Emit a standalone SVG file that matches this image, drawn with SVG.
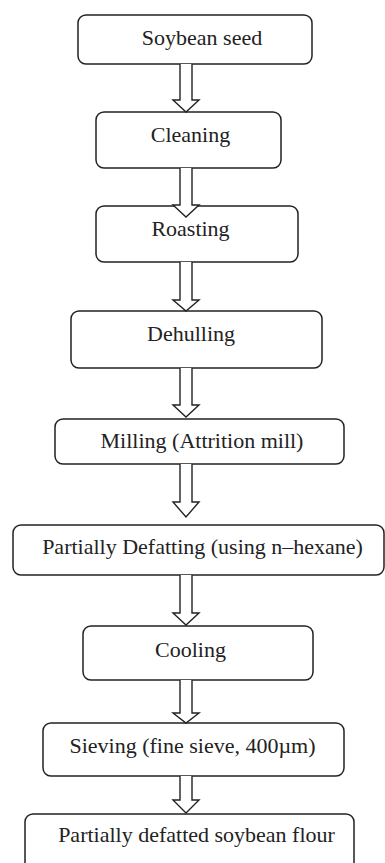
<svg xmlns="http://www.w3.org/2000/svg" width="385" height="863" viewBox="0 0 385 863">
<style>
.box{fill:#fff;stroke:#222;stroke-width:1.5}
.lbl{font-family:"Liberation Serif","Times New Roman",serif;font-size:22px;fill:#222;text-anchor:middle}
.arr{fill:#fff;stroke:#222;stroke-width:1.4;stroke-linejoin:miter}
</style>
<rect width="385" height="863" fill="#fff"/>
<g id="n1"><rect class="box" x="78" y="15" width="234" height="49" rx="8"/><text class="lbl" x="202" y="45">Soybean seed</text></g>
<g id="n2"><rect class="box" x="96" y="112" width="185" height="56" rx="8"/><text class="lbl" x="190.5" y="142">Cleaning</text></g>
<g id="n3"><rect class="box" x="96" y="206" width="202" height="56" rx="8"/><text class="lbl" x="190.5" y="236">Roasting</text></g>
<g id="n4"><rect class="box" x="71" y="311" width="251" height="57" rx="8"/><text class="lbl" x="191" y="341">Dehulling</text></g>
<g id="n5"><rect class="box" x="55" y="419" width="289" height="45" rx="8"/><text class="lbl" x="202" y="448">Milling (Attrition mill)</text></g>
<g id="n6"><rect class="box" x="13" y="525" width="371" height="50" rx="8"/><text class="lbl" x="202.5" y="554">Partially Defatting (using n–hexane)</text></g>
<g id="n7"><rect class="box" x="83" y="626" width="230" height="54" rx="8"/><text class="lbl" x="190.5" y="657">Cooling</text></g>
<g id="n8"><rect class="box" x="43" y="723" width="301" height="53" rx="8"/><text class="lbl" x="192.5" y="753">Sieving (fine sieve, 400µm)</text></g>
<g id="n9"><rect class="box" x="25" y="814" width="329" height="70" rx="8"/><text class="lbl" x="196.5" y="842">Partially defatted soybean flour</text></g>
<g id="connectors">
<path class="arr" d="M180,64 V100 H173 L186,112 L199,100 H192 V64"/>
<path class="arr" d="M180,168 V205 H173 L186,217 L199,205 H192 V168"/>
<path class="arr" d="M180,262 V300 H173 L186,311 L199,300 H192 V262"/>
<path class="arr" d="M180,368 V405 H173 L186,417 L199,405 H192 V368"/>
<path class="arr" d="M180,464 V502 H173 L186,517 L199,502 H192 V464"/>
<path class="arr" d="M180,575 V613 H173 L186,625 L199,613 H192 V575"/>
<path class="arr" d="M180,680 V713 H173 L186,723 L199,713 H192 V680"/>
<path class="arr" d="M180,776 V800 H173 L186,813 L199,800 H192 V776"/>
</g>
</svg>
